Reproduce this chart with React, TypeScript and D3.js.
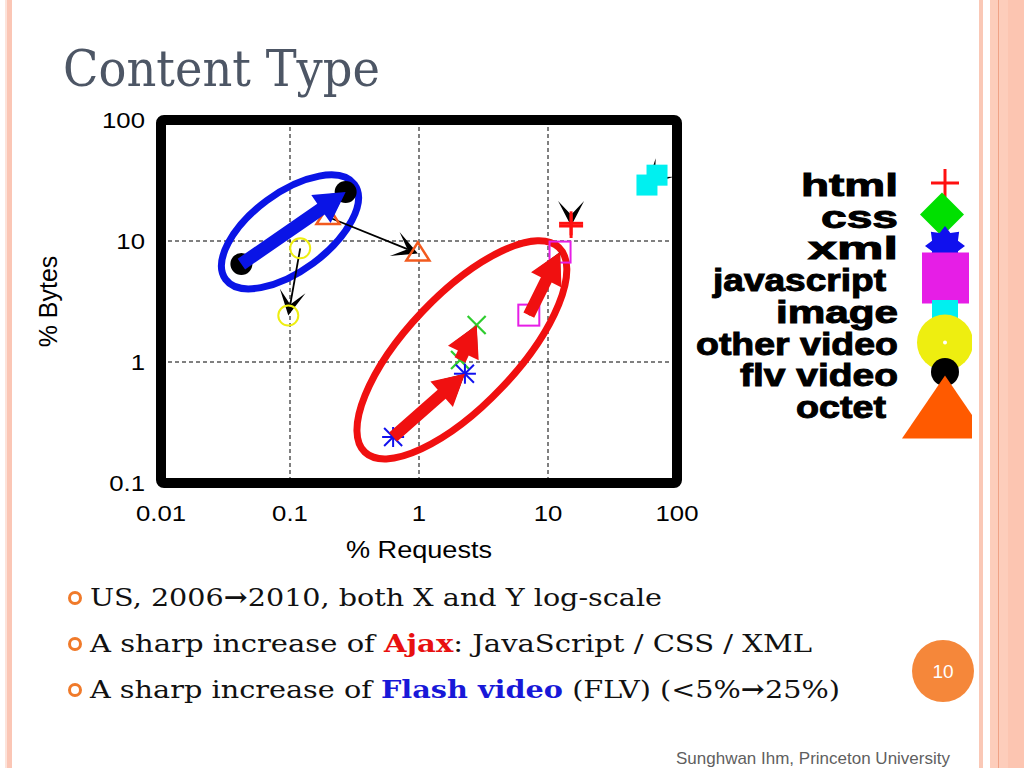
import React from 'react';
import * as d3 from 'd3';

// ---------- data ----------
const categories = ['html', 'css', 'xml', 'javascript', 'image', 'other video', 'flv video', 'octet'];
const requests2006 = [15.1, 2.08, 0.63, 7.1, 70, 0.12, 0.042, 0.197];
const bytes2006 = [14.0, 1.04, 0.24, 2.44, 35, 8.7, 6.45, 15.8];
const requests2010 = [15.1, 2.8, 2.27, 12.4, 58.5, 0.097, 0.27, 0.98];
const bytes2010 = [13.3, 2.02, 0.8, 8.1, 29, 2.42, 25.4, 7.9];
const xTicks = [0.01, 0.1, 1, 10, 100];
const yTicks = [0.1, 1, 10, 100];
const xTickLabels = ['0.01', '0.1', '1', '10', '100'];
const yTickLabels = ['0.1', '1', '10', '100'];
const ajaxGroup = ['xml', 'css', 'javascript'];
const flashGroup = ['flv video'];
// ellipse annotation centres in data units
const ellipseCentres = [
  { name: 'flash', req: 0.1, bytes: 11.9 },
  { name: 'ajax', req: 2.15, bytes: 1.26 },
];

// ---------- styles ----------
const markerType: Record<string, string> = {
  html: 'plus', css: 'x', xml: 'asterisk', javascript: 'square', image: 'fsquare',
  'other video': 'circle', 'flv video': 'dot', octet: 'triangle',
};
const colour: Record<string, string> = {
  html: '#ff1010', css: '#2ecc2e', xml: '#1010ee', javascript: '#e61ee6', image: '#00f0f0',
  'other video': '#eeee10', 'flv video': '#000000', octet: '#f25a1e',
};

function PlotMarker({ type, cx, cy, c }: { type: string; cx: number; cy: number; c: string }) {
  switch (type) {
    case 'plus':
      return (<g stroke={c} strokeWidth={3}><line x1={cx - 12} y1={cy} x2={cx + 12} y2={cy} /><line x1={cx} y1={cy - 12} x2={cx} y2={cy + 12} /></g>);
    case 'x':
      return (<g stroke={c} strokeWidth={2.2}><line x1={cx - 9} y1={cy - 9} x2={cx + 9} y2={cy + 9} /><line x1={cx - 9} y1={cy + 9} x2={cx + 9} y2={cy - 9} /></g>);
    case 'asterisk':
      return (<g stroke={c} strokeWidth={2}>
        <line x1={cx - 9} y1={cy - 9} x2={cx + 9} y2={cy + 9} /><line x1={cx - 9} y1={cy + 9} x2={cx + 9} y2={cy - 9} />
        <line x1={cx} y1={cy - 10} x2={cx} y2={cy + 10} /><line x1={cx - 11} y1={cy} x2={cx + 11} y2={cy} /></g>);
    case 'square':
      return <rect x={cx - 10.5} y={cy - 10.5} width={21} height={21} fill="none" stroke={c} strokeWidth={2} />;
    case 'fsquare':
      return <rect x={cx - 10.5} y={cy - 10.5} width={21} height={21} fill={c} />;
    case 'circle':
      return <circle cx={cx} cy={cy} r={10} fill="none" stroke={c} strokeWidth={2} />;
    case 'dot':
      return <circle cx={cx} cy={cy} r={11} fill={c} />;
    case 'triangle':
      return <path d={`M${cx},${cy - 11}L${cx + 11.5},${cy + 7}L${cx - 11.5},${cy + 7}Z`} fill="none" stroke={c} strokeWidth={2.5} />;
  }
  return null;
}

function LegendMarker({ type, cx, cy, c }: { type: string; cx: number; cy: number; c: string }) {
  switch (type) {
    case 'plus':
      return (<g stroke={c} strokeWidth={3}><line x1={cx - 14} y1={cy} x2={cx + 14} y2={cy} /><line x1={cx} y1={cy - 14} x2={cx} y2={cy + 14} /></g>);
    case 'x':
      return <path d={`M${cx - 3},${cy - 22}L${cx + 19},${cy}L${cx - 3},${cy + 22}L${cx - 25},${cy}Z`} fill="#00e000" />;
    case 'asterisk': {
      const pts: string[] = [];
      for (let i = 0; i < 16; i++) {
        const a = (i * Math.PI) / 8 - Math.PI / 2;
        const r = i % 2 === 0 ? 20 : 14;
        pts.push(`${cx + r * Math.cos(a)},${cy + r * Math.sin(a)}`);
      }
      return <polygon points={pts.join(' ')} fill={c} />;
    }
    case 'square':
      return <rect x={cx - 23} y={cy - 25} width={47} height={51} fill={c} />;
    case 'fsquare':
      return <rect x={cx - 13} y={cy - 9} width={26} height={20} fill={c} />;
    case 'circle':
      return (<g><circle cx={cx} cy={cy} r={28} fill={c} /><circle cx={cx} cy={cy} r={2} fill="#ffffff" /></g>);
    case 'dot':
      return <circle cx={cx} cy={cy} r={14} fill={c} />;
    case 'triangle':
      return <path d={`M${cx},${cy - 36}L${cx + 43},${cy + 27}L${cx - 43},${cy + 27}Z`} fill="#ff5a00" />;
  }
  return null;
}

function thinArrow(x0: number, y0: number, x1: number, y1: number) {
  const dx = x1 - x0, dy = y1 - y0;
  const len = Math.hypot(dx, dy) || 1;
  const ux = dx / len, uy = dy / len, nx = -uy, ny = ux;
  const L = 25, Hh = 13;
  const bx = x1 - ux * L, by = y1 - uy * L;
  const notchx = x1 - ux * L * 0.45, notchy = y1 - uy * L * 0.45;
  return {
    line: `M${x0},${y0}L${notchx},${notchy}`,
    head: `M${x1},${y1}L${bx + nx * Hh},${by + ny * Hh}L${notchx},${notchy}L${bx - nx * Hh},${by - ny * Hh}Z`,
  };
}

function thickArrow(x0: number, y0: number, x1: number, y1: number, w: number, L: number, Hh: number) {
  const dx = x1 - x0, dy = y1 - y0;
  const len = Math.hypot(dx, dy) || 1;
  const ux = dx / len, uy = dy / len, nx = -uy, ny = ux;
  const bx = x1 - ux * L, by = y1 - uy * L;
  const h = w / 2;
  return `M${x0 + nx * h},${y0 + ny * h}L${bx + nx * h},${by + ny * h}L${bx + nx * Hh},${by + ny * Hh}L${x1},${y1}L${bx - nx * Hh},${by - ny * Hh}L${bx - nx * h},${by - ny * h}L${x0 - nx * h},${y0 - ny * h}Z`;
}

const legendWidths: Record<string, number> = {
  html: 97, css: 77, xml: 90, javascript: 173, image: 122, 'other video': 202, 'flv video': 158, octet: 90,
};

export default function App() {
  const W = 1024, H = 768;
  const x = d3.scaleLog().domain([0.01, 100]).range([161, 677]);
  const y = d3.scaleLog().domain([0.1, 100]).range([483, 120]);
  const [x0, x1] = x.range();
  const [yb, yt] = y.range();

  const pts = categories.map((name, i) => ({
    name,
    ax: x(requests2006[i]), ay: y(bytes2006[i]),
    bx: x(requests2010[i]), by: y(bytes2010[i]),
  }));

  const sans = '"Liberation Sans", Arial, Helvetica, sans-serif';
  const serif = '"DejaVu Serif", "Century Schoolbook", serif';

  const ellipseSpec: Record<string, { rx: number; ry: number; angle: number; c: string }> = {
    flash: { rx: 80, ry: 39, angle: -36.4, c: '#0a14e6' },
    ajax: { rx: 141, ry: 55, angle: -46.5, c: '#f01010' },
  };

  return (
    <svg width={W} height={H} style={{ position: 'absolute', left: 0, top: 0 }} xmlns="http://www.w3.org/2000/svg">
      <rect width={W} height={H} fill="#ffffff" />
      {/* slide decoration */}
      <rect x={5} y={0} width={2} height={H} fill="#fde3da" />
      <rect x={7} y={0} width={5} height={H} fill="#fbc6b5" />
      <rect x={979} y={0} width={4} height={H} fill="#fac8b6" />
      <rect x={990} y={0} width={34} height={H} fill="#fdcdbb" />
      <rect x={1008} y={0} width={16} height={H} fill="#fcc5b1" />
      <line x1={998.5} y1={0} x2={998.5} y2={H} stroke="#f0a286" strokeWidth={1} />

      {/* title */}
      <text x={63} y={86} fontFamily={serif} fontSize={50} fill="#4d5665" textLength={317} lengthAdjust="spacingAndGlyphs">Content Type</text>

      {/* grid */}
      <g stroke="#000" strokeWidth={1} strokeDasharray="4,3">
        {xTicks.slice(1, -1).map((t) => (<line key={'gx' + t} x1={x(t)} y1={yt} x2={x(t)} y2={yb} />))}
        {yTicks.slice(1, -1).map((t) => (<line key={'gy' + t} x1={x0} y1={y(t)} x2={x1} y2={y(t)} />))}
      </g>

      {/* ellipses */}
      {ellipseCentres.map((e) => {
        const s = ellipseSpec[e.name];
        const cx = x(e.req), cy = y(e.bytes);
        return (<ellipse key={e.name} cx={cx} cy={cy} rx={s.rx} ry={s.ry} transform={`rotate(${s.angle},${cx},${cy})`} fill="none" stroke={s.c} strokeWidth={7} />);
      })}

      {/* thin black change arrows */}
      {pts.map((p) => {
        const a = thinArrow(p.ax, p.ay, p.bx, p.by);
        return (<g key={'ta' + p.name}><path d={a.line} stroke="#000" strokeWidth={1.8} fill="none" /><path d={a.head} fill="#000" /></g>);
      })}

      {/* markers for both years */}
      {pts.map((p) => (
        <g key={'m' + p.name}>
          <PlotMarker type={markerType[p.name]} cx={p.ax} cy={p.ay} c={colour[p.name]} />
          <PlotMarker type={markerType[p.name]} cx={p.bx} cy={p.by} c={colour[p.name]} />
        </g>
      ))}

      {/* highlighted arrows */}
      {pts.filter((p) => flashGroup.includes(p.name)).map((p) => (
        <path key={'fa' + p.name} d={thickArrow(p.ax, p.ay, p.bx, p.by, 13, 30, 17)} fill="#0a14e6" />
      ))}
      {pts.filter((p) => ajaxGroup.includes(p.name)).map((p) => (
        <path key={'aa' + p.name} d={thickArrow(p.ax, p.ay, p.bx, p.by, 12, 31, 17)} fill="#f01010" />
      ))}

      {/* frame */}
      <rect x={x0} y={yt} width={x1 - x0} height={yb - yt} fill="none" stroke="#000" strokeWidth={10} rx={3} strokeLinejoin="round" />

      {/* tick labels */}
      <g fontFamily={sans} fontSize={23} fill="#000">
        {xTicks.map((t, i) => (<text key={'xl' + t} transform={`translate(${x(t)},521) scale(1.12,1)`} textAnchor="middle">{xTickLabels[i]}</text>))}
        {yTicks.map((t, i) => (<text key={'yl' + t} transform={`translate(145,${y(t) + 8}) scale(1.12,1)`} textAnchor="end">{yTickLabels[i]}</text>))}
      </g>
      <text transform={`translate(${(x0 + x1) / 2},558) scale(1.13,1)`} textAnchor="middle" fontFamily={sans} fontSize={24}>% Requests</text>
      <text transform={`translate(57,${(yt + yb) / 2}) rotate(-90)`} textAnchor="middle" fontFamily={sans} fontSize={25}>% Bytes</text>

      {/* legend */}
      <defs>
        <clipPath id="legclip"><rect x={880} y={150} width={92} height={290} /></clipPath>
      </defs>
      <g clipPath="url(#legclip)">
        {categories.map((name, i) => (
          <LegendMarker key={'lm' + name} type={markerType[name]} cx={945} cy={183 + i * 31.5 + (name === 'octet' ? 8 : 0) + (name === 'other video' ? 2 : 0)} c={colour[name]} />
        ))}
      </g>
      <g fontFamily={sans} fontWeight="bold" fontSize={32} fill="#000" stroke="#000" strokeWidth={1}>
        {categories.map((name, i) => (
          <text key={'lt' + name} x={898 - legendWidths[name] + (name === 'javascript' || name === 'octet' ? -12 : 0)} y={196 + i * 31.7} textLength={legendWidths[name]} lengthAdjust="spacingAndGlyphs">{name}</text>
        ))}
      </g>

      {/* bullets */}
      <g fontFamily={serif} fontSize={25} fill="#111">
        {[598, 644, 690].map((cy) => (<circle key={'b' + cy} cx={75} cy={cy} r={5.5} fill="none" stroke="#f07a2a" strokeWidth={3} />))}
        <text x={90} y={606} textLength={572} lengthAdjust="spacingAndGlyphs">US, 2006<tspan fontWeight="bold">{'\u2192'}</tspan>2010, both X and Y log-scale</text>
        <text x={90} y={652} textLength={722} lengthAdjust="spacingAndGlyphs">A sharp increase of <tspan fontWeight="bold" fill="#e81010">Ajax</tspan>: JavaScript / CSS / XML</text>
        <text x={90} y={698} textLength={750} lengthAdjust="spacingAndGlyphs">A sharp increase of <tspan fontWeight="bold" fill="#1818d8">Flash video</tspan> (FLV) ({'<'}5%<tspan fontWeight="bold">{'\u2192'}</tspan>25%)</text>
      </g>

      {/* page number and footer */}
      <circle cx={943} cy={671} r={31} fill="#f5873a" />
      <text x={943} y={678} textAnchor="middle" fontFamily={sans} fontSize={19} fill="#fff">10</text>
      <text x={950} y={764} textAnchor="end" fontFamily={sans} fontSize={17} fill="#5f5f5f">Sunghwan Ihm, Princeton University</text>
    </svg>
  );
}
